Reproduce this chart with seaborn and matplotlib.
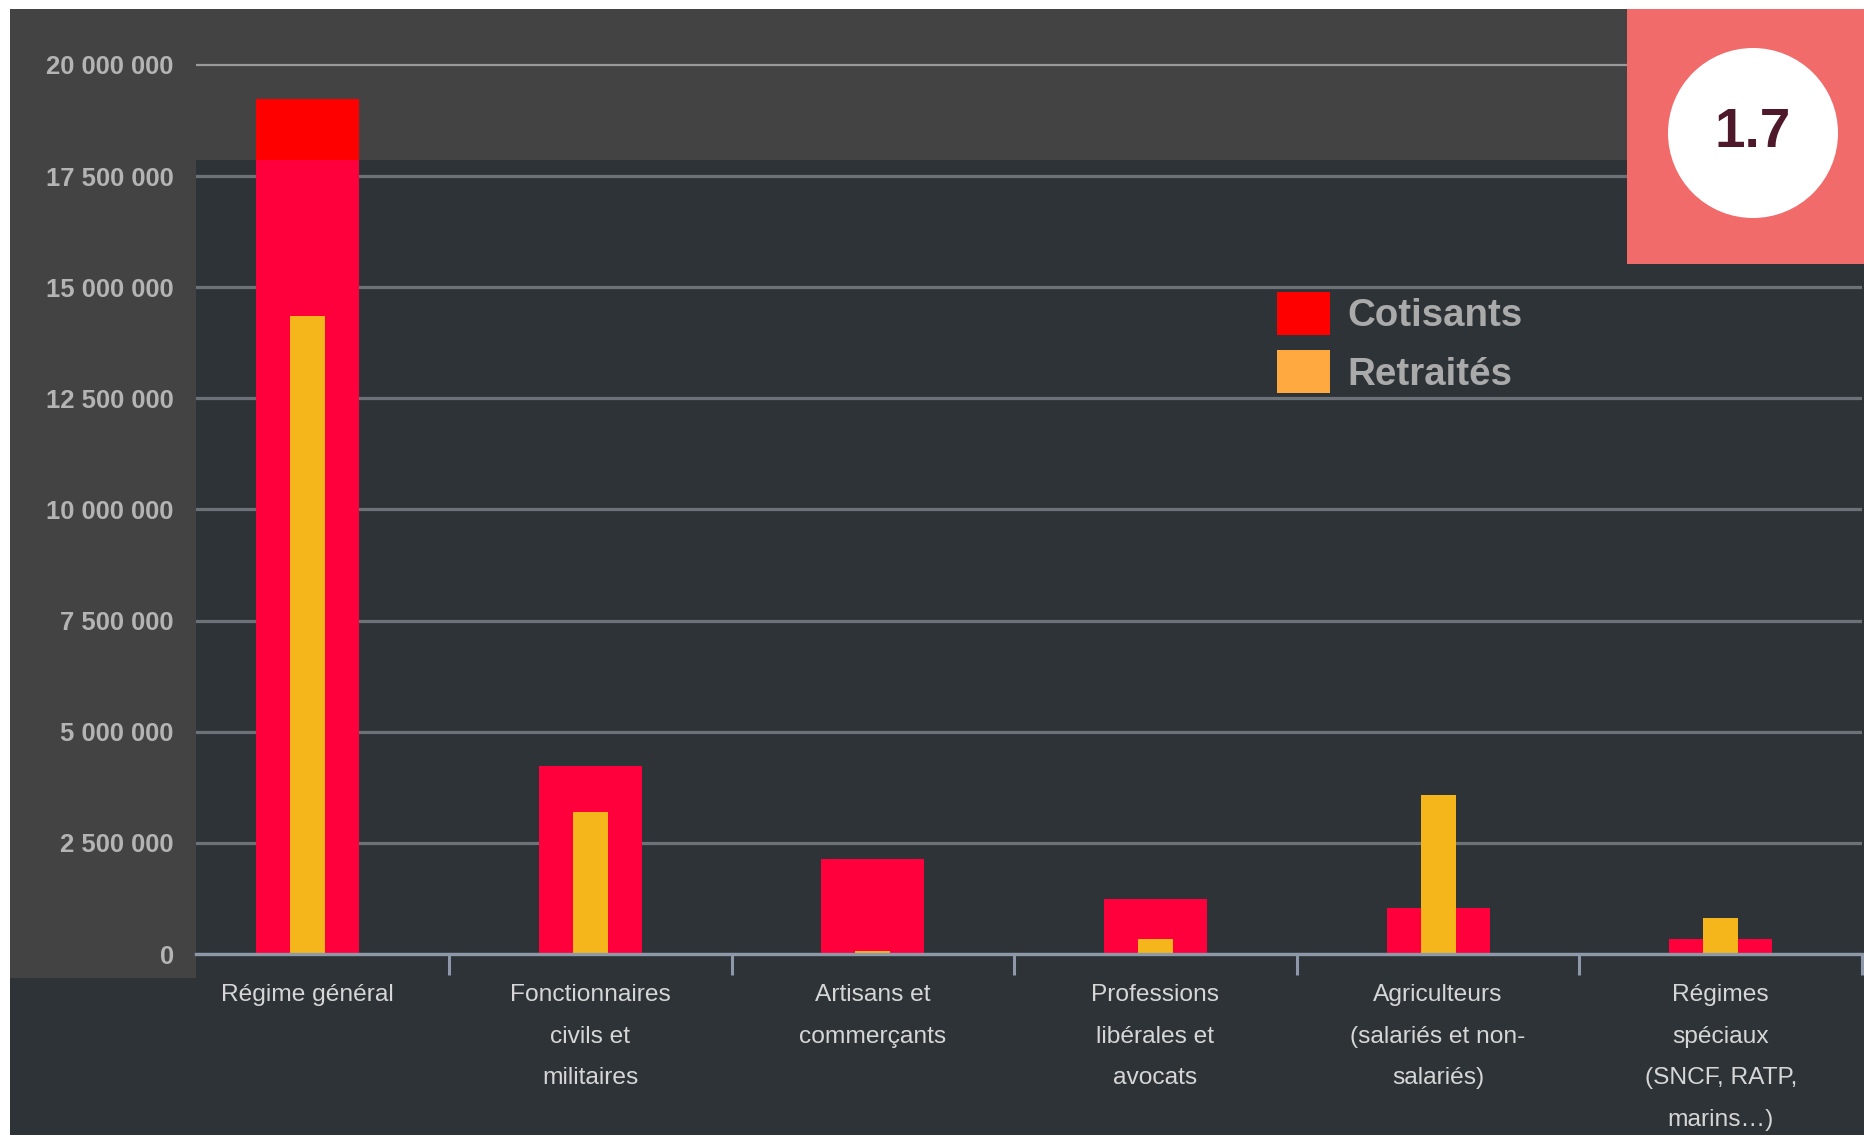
import numpy as np
import pandas as pd
import seaborn as sns
import matplotlib.pyplot as plt
from matplotlib import font_manager
from matplotlib.patches import Rectangle, Circle, Patch
from matplotlib.ticker import FixedLocator

# Données
regimes = ["Régime général",
           "Fonctionnaires\ncivils et\nmilitaires",
           "Artisans et\ncommerçants",
           "Professions\nlibérales et\navocats",
           "Agriculteurs\n(salariés et non-\nsalariés)",
           "Régimes\nspéciaux\n(SNCF, RATP,\nmarins…)"]
cotisants = [19230000, 4230000, 2140000, 1240000, 1040000, 340000]
retraites = [14350000, 3200000, 70000, 340000, 3580000, 800000]
yticks = [0, 2500000, 5000000, 7500000, 10000000, 12500000, 15000000, 17500000, 20000000]
badge = "1.7"

df = pd.DataFrame({"regime": regimes, "cotisants": cotisants, "retraites": retraites})

# police étroite si dispo
noms = {f.name for f in font_manager.fontManager.ttflist}
if "Liberation Sans Narrow" in noms:
    NARROW, k = "Liberation Sans Narrow", 1.0
else:
    NARROW, k = "Liberation Sans", 0.84

W, H = 1865, 1135
fig = plt.figure(figsize=(W / 100, H / 100), dpi=100, facecolor="white")

def px_rect(x0, y0, x1, y1, **kw):
    # rectangle en pixels (origine en haut à gauche)
    return Rectangle((x0 / 100, (H - y1) / 100), (x1 - x0) / 100, (y1 - y0) / 100,
                     transform=fig.dpi_scale_trans, **kw)

# fonds
fig.add_artist(px_rect(10, 9, W, H, facecolor="#2d3337", edgecolor="none", zorder=-10))
fig.add_artist(px_rect(10, 9, 1627, 160, facecolor="#434343", edgecolor="none", zorder=-9))
fig.add_artist(px_rect(10, 9, 196, 978, facecolor="#434343", edgecolor="none", zorder=-9))

# axes : 0 à y=954 px, 20M à y=65 px
ppu = (954 - 65) / 20e6
ax_h = 954 - 20
ax = fig.add_axes([196 / W, (H - 954) / H, (1862 - 196) / W, ax_h / H])
ax.set_facecolor("none")

sns.barplot(data=df, x="regime", y="cotisants", color="#ff003c", width=0.365,
            saturation=1, linewidth=0, ax=ax, zorder=2)
red_bars = list(ax.patches)
sns.barplot(data=df, x="regime", y="retraites", color="#f5b61c", width=0.124,
            saturation=1, linewidth=0, ax=ax, zorder=3)

# partie haute du grand bar en rouge pur (zone grise)
clip = px_rect(10, 9, 1627, 160)
for p in red_bars:
    q = Rectangle((p.get_x(), p.get_y()), p.get_width(), p.get_height(),
                  facecolor="#ff0000", edgecolor="none", zorder=2.5)
    ax.add_patch(q)
    q.set_clip_path(clip)

ax.set_xlim(-0.395, 5.5)
ax.set_ylim(0, ax_h / ppu)
ax.set_xlabel("")
ax.set_ylabel("")

ax.set_yticks(yticks)
ax.set_yticklabels([f"{v:,}".replace(",", " ") for v in yticks])
ax.tick_params(axis="y", length=0, pad=16, labelsize=22 * k, labelcolor="#b4b4b4")
for t in ax.get_yticklabels():
    t.set_fontfamily(NARROW)
    t.set_fontweight("bold")

ax.yaxis.grid(True, color="#6c7277", linewidth=2.3)
ax.get_ygridlines()[-1].set_color("#9a9a9a")
ax.get_ygridlines()[-1].set_linewidth(1.6)
ax.set_axisbelow(True)

# étiquettes des catégories (multi-lignes, interligne large)
ax.set_xticks(range(len(regimes)))
ax.set_xticklabels([])
ax.tick_params(axis="x", which="major", length=0)
for i, lab in enumerate(regimes):
    ax.text(i, -30 / ax_h, lab, transform=ax.get_xaxis_transform(), ha="center",
            va="top", multialignment="center", linespacing=2.16,
            fontsize=21 * k, family=NARROW, color="#d6d6d6")
ax.xaxis.set_minor_locator(FixedLocator(np.arange(0.5, 6, 1)))
ax.tick_params(axis="x", which="minor", direction="out", length=15, width=2.2, color="#8d99a8")

for s in ["top", "right", "left"]:
    ax.spines[s].set_visible(False)
ax.spines["bottom"].set_color("#8d99a8")
ax.spines["bottom"].set_linewidth(2.4)
ax.spines["bottom"].set_zorder(4)

# légende
handles = [Patch(facecolor="#ff0000", label="Cotisants"),
           Patch(facecolor="#ffa940", label="Retraités")]
fs = 33 * k
fs_px = fs * 100 / 72
leg = ax.legend(handles=handles, loc="upper left", frameon=False,
                bbox_to_anchor=(1277 / W, 1 - 292 / H), bbox_transform=fig.transFigure,
                borderaxespad=0, borderpad=0, handlelength=53 / fs_px,
                handleheight=40 / fs_px + 0.3, handletextpad=0.45, labelspacing=0.4,
                prop={"family": NARROW, "weight": "bold", "size": fs}, labelcolor="#aaaaaa")

# pastille en haut à droite
fig.add_artist(px_rect(1627, 9, W, 264, facecolor="#f26b6b", edgecolor="none", zorder=5))
fig.add_artist(Circle((1753 / 100, (H - 133) / 100), 0.85, transform=fig.dpi_scale_trans,
                      facecolor="white", edgecolor="none", zorder=6))
fig.text(1753 / 100, (H - 133) / 100, badge, transform=fig.dpi_scale_trans, ha="center",
         va="center", fontsize=47 * k, fontweight="bold", family=NARROW, color="#4e1a2b", zorder=7)

fig.savefig("out.png", dpi=100, facecolor="white")
